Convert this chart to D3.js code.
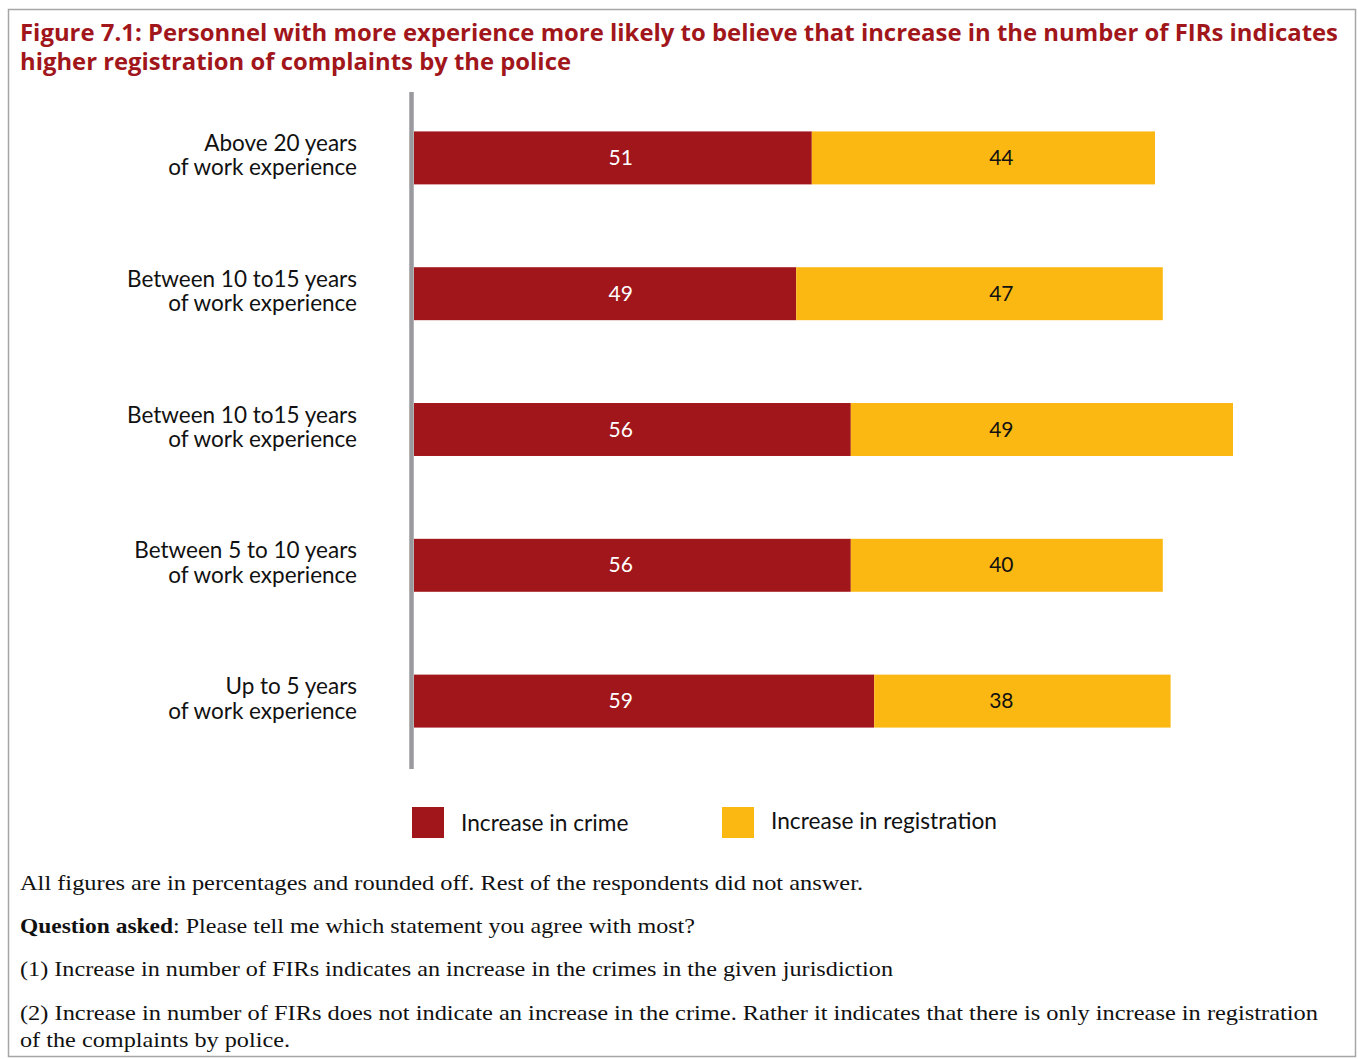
<!DOCTYPE html>
<html><head><meta charset="utf-8">
<script src="https://cdn.jsdelivr.net/npm/d3@7"></script>
<style>body{margin:0;background:#fff;} svg{display:block;}</style>
</head><body>
<svg id="chart" width="1358" height="1059"></svg>
<script>
const categories = [
  ["Above 20 years", "of work experience"],
  ["Between 10 to15 years", "of work experience"],
  ["Between 10 to15 years", "of work experience"],
  ["Between 5 to 10 years", "of work experience"],
  ["Up to 5 years", "of work experience"]
];
const crime = [51, 49, 56, 56, 59];
const registration = [44, 47, 49, 40, 38];
const seriesNames = ["Increase in crime", "Increase in registration"];
const titleLines = [
  "Figure 7.1: Personnel with more experience more likely to believe that increase in the number of FIRs indicates",
  "higher registration of complaints by the police"
];
const notes = [
  "All figures are in percentages and rounded off. Rest of the respondents did not answer.",
  "(1) Increase in number of FIRs indicates an increase in the crimes in the given jurisdiction",
  "(2) Increase in number of FIRs does not indicate an increase in the crime. Rather it indicates that there is only increase in registration",
  "of the complaints by police."
];
const questionLabel = "Question asked";
const questionText = ": Please tell me which statement you agree with most?";

const RED = "#a1161b", YELLOW = "#fbb813";
const svg = d3.select("#chart");

// frame
svg.append("rect").attr("x", 8.5).attr("y", 9.5).attr("width", 1347).attr("height", 1047)
  .attr("fill", "none").attr("stroke", "#a6a6a6").attr("stroke-width", 1.5);

// title
const tw = [1318, 551];
titleLines.forEach((t, i) => {
  svg.append("text").attr("x", 20).attr("y", 41 + i * 29)
    .attr("font-family", "'Open Sans', sans-serif").attr("font-weight", 700)
    .attr("font-size", 23).attr("fill", RED)
    .attr("textLength", tw[i]).attr("lengthAdjust", "spacingAndGlyphs")
    .text(t);
});

const idx = d3.range(categories.length);
const x = d3.scaleLinear().domain([0, 100]).range([414, 1194]);
const y = d3.scaleBand().domain(idx).range([90, 769]).paddingInner(0.61).paddingOuter(0.305);

// bars
const g = svg.append("g");
g.selectAll("rect.crime").data(idx).join("rect")
  .attr("x", x(0)).attr("y", i => y(i)).attr("height", y.bandwidth())
  .attr("width", i => x(crime[i]) - x(0)).attr("fill", RED);
g.selectAll("rect.reg").data(idx).join("rect")
  .attr("x", i => x(crime[i])).attr("y", i => y(i)).attr("height", y.bandwidth())
  .attr("width", i => x(crime[i] + registration[i]) - x(crime[i])).attr("fill", YELLOW);

// value labels
const fontSans = "Lato, 'Open Sans', sans-serif";
g.selectAll("text.cl").data(idx).join("text")
  .attr("x", x(26.5)).attr("y", i => y(i) + y.bandwidth() / 2 + 7)
  .attr("text-anchor", "middle").attr("font-family", fontSans).attr("font-size", 21)
  .attr("fill", "#fff").text(i => crime[i]);
g.selectAll("text.rl").data(idx).join("text")
  .attr("x", x(75.3)).attr("y", i => y(i) + y.bandwidth() / 2 + 7)
  .attr("text-anchor", "middle").attr("font-family", fontSans).attr("font-size", 21)
  .attr("fill", "#111").text(i => registration[i]);

// axis line
svg.append("line").attr("x1", 411.5).attr("x2", 411.5).attr("y1", 92).attr("y2", 769)
  .attr("stroke", "#9a9a9e").attr("stroke-width", 4.5);

// category labels
idx.forEach(i => {
  const cy = y(i) + y.bandwidth() / 2;
  categories[i].forEach((line, j) => {
    svg.append("text").attr("x", 357).attr("y", cy - 7 + j * 24.5)
      .attr("text-anchor", "end").attr("font-family", fontSans).attr("font-size", 22.5)
      .attr("fill", "#111").text(line);
  });
});

// legend
const legX = [412, 722];
const legTX = [461, 771];
seriesNames.forEach((n, i) => {
  svg.append("rect").attr("x", legX[i]).attr("y", 807).attr("width", 32).attr("height", 31)
    .attr("fill", i === 0 ? RED : YELLOW);
  svg.append("text").attr("x", legTX[i]).attr("y", i === 0 ? 831 : 829)
    .attr("font-family", fontSans).attr("font-size", 22.7).attr("fill", "#111").text(n);
});

// notes
const serif = "'Liberation Serif', 'Times New Roman', serif";
const noteW = [843, 873, 1298, 270];
const noteY = [890, 976, 1020, 1047];
notes.forEach((t, i) => {
  svg.append("text").attr("x", 20).attr("y", noteY[i])
    .attr("font-family", serif).attr("font-size", 22).attr("fill", "#111")
    .attr("textLength", noteW[i]).attr("lengthAdjust", "spacingAndGlyphs").text(t);
});
svg.append("text").attr("x", 20).attr("y", 933)
  .attr("font-family", serif).attr("font-size", 22).attr("font-weight", 700).attr("fill", "#111")
  .attr("textLength", 153).attr("lengthAdjust", "spacingAndGlyphs").text(questionLabel);
svg.append("text").attr("x", 173).attr("y", 933)
  .attr("font-family", serif).attr("font-size", 22).attr("fill", "#111")
  .attr("textLength", 522).attr("lengthAdjust", "spacingAndGlyphs").text(questionText);
</script>
</body></html>
